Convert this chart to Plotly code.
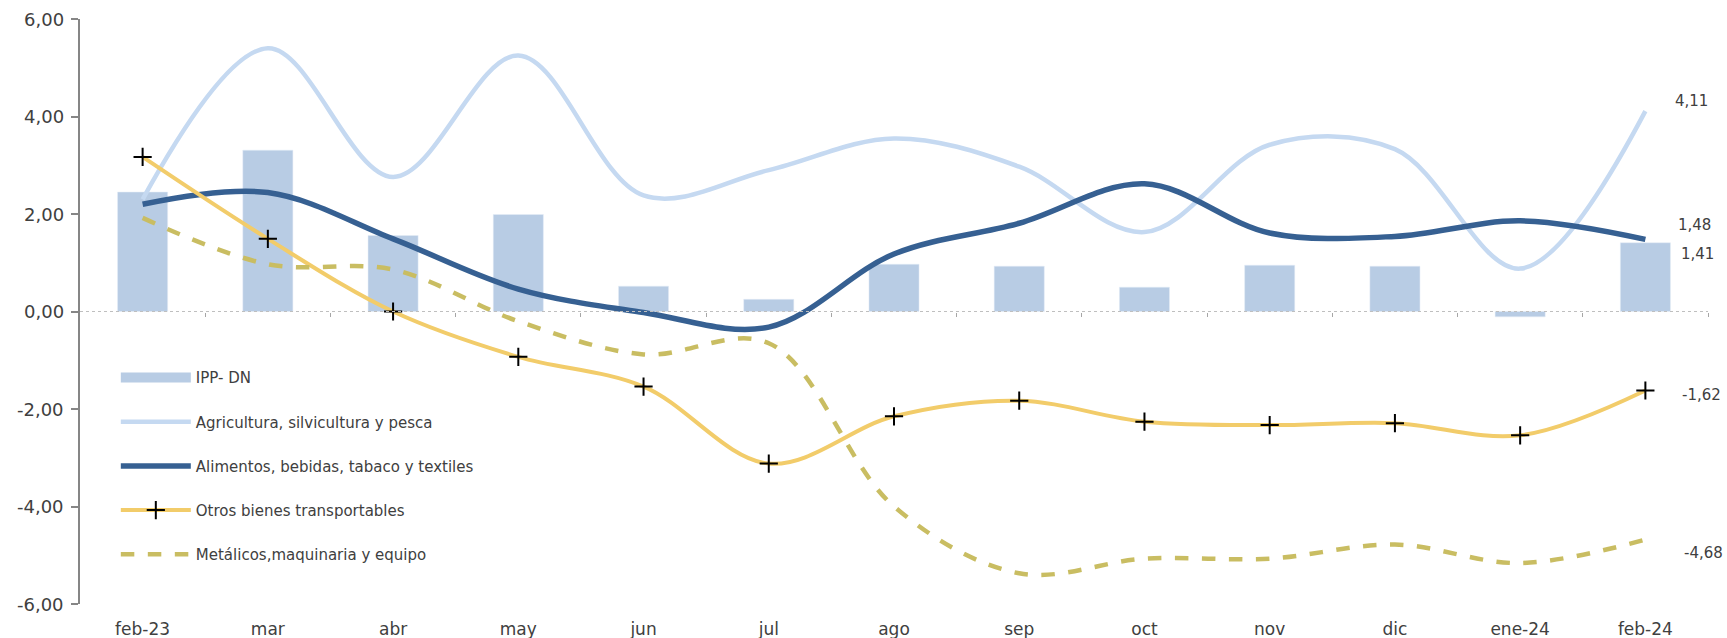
import plotly.graph_objects as go

# categories
months = ["feb-23", "mar", "abr", "may", "jun", "jul", "ago",
          "sep", "oct", "nov", "dic", "ene-24", "feb-24"]

# series values
ipp_dn = [2.45, 3.31, 1.56, 1.99, 0.52, 0.25, 0.97, 0.93, 0.50, 0.95, 0.93, -0.11, 1.41]
agricultura = [2.30, 5.40, 2.76, 5.25, 2.38, 2.90, 3.55, 2.97, 1.63, 3.42, 3.33, 0.88, 4.11]
alimentos = [2.20, 2.44, 1.49, 0.46, -0.02, -0.32, 1.18, 1.81, 2.62, 1.61, 1.54, 1.86, 1.48]
otros = [3.17, 1.49, 0.00, -0.93, -1.54, -3.12, -2.15, -1.83, -2.26, -2.33, -2.29, -2.54, -1.62]
metalicos = [1.92, 0.97, 0.86, -0.20, -0.88, -0.65, -4.00, -5.37, -5.07, -5.07, -4.78, -5.16, -4.68]

y_ticks = [-6, -4, -2, 0, 2, 4, 6]

FONT = "DejaVu Sans"
TEXT = "#404040"

C_BAR = "#B8CCE4"
C_AGRI = "#C5D9F1"
C_ALIM = "#366092"
C_OTROS = "#F2CC6A"
C_METAL = "#C9BD62"


def fmt(v):
    # spanish decimal comma, plain hyphen for negatives
    return f"{v:.2f}".replace(".", ",")


x = list(range(len(months)))

fig = go.Figure()

# bars (legend handled by a proxy line so the swatch is a wide rectangle)
fig.add_trace(go.Bar(x=x, y=ipp_dn, marker_color=C_BAR, width=0.4,
                     showlegend=False, name="IPP- DN"))
fig.add_trace(go.Scatter(x=[None], y=[None], mode="lines", name="IPP- DN",
                         line=dict(color=C_BAR, width=11), legendgroup="a"))

fig.add_trace(go.Scatter(x=x, y=agricultura, mode="lines",
                         name="Agricultura, silvicultura y pesca",
                         line=dict(color=C_AGRI, width=4.5, shape="spline", smoothing=1),
                         legendgroup="b"))
fig.add_trace(go.Scatter(x=x, y=alimentos, mode="lines",
                         name="Alimentos, bebidas, tabaco y textiles",
                         line=dict(color=C_ALIM, width=5.5, shape="spline", smoothing=1),
                         legendgroup="c"))
fig.add_trace(go.Scatter(x=x, y=otros, mode="lines+markers",
                         name="Otros bienes transportables",
                         line=dict(color=C_OTROS, width=4, shape="spline", smoothing=1),
                         marker=dict(symbol="cross-thin", size=13,
                                     line=dict(color="black", width=2)),
                         legendgroup="d"))
fig.add_trace(go.Scatter(x=x, y=metalicos, mode="lines",
                         name="Metálicos,maquinaria y equipo",
                         line=dict(color=C_METAL, width=4.5, shape="spline", smoothing=1, dash="dash"),
                         legendgroup="e"))

# dummy trace so the zero-line tick axis is drawn
fig.add_trace(go.Scatter(x=[None], y=[None], xaxis="x2", showlegend=False, hoverinfo="skip"))

# zero line (dotted)
fig.add_shape(type="line", xref="paper", yref="y", x0=0, x1=1, y0=0, y1=0,
              line=dict(color="#BFBFBF", width=1, dash="dot"))

# y tick labels (drawn as text so they sit at a fixed gap from the axis)
for v in y_ticks:
    fig.add_annotation(xref="paper", x=0, y=v, text=fmt(v), showarrow=False,
                       xanchor="right", xshift=-14,
                       font=dict(family=FONT, size=18, color=TEXT))

# end-of-series labels
end_labels = [
    (agricultura[-1], 10, 46),
    (alimentos[-1], 14, 49),
    (ipp_dn[-1], -11, 52),
    (otros[-1], -5, 56),
    (metalicos[-1], -13, 58),
]
for val, ys, xs in end_labels:
    fig.add_annotation(x=x[-1], y=val, text=fmt(val), showarrow=False,
                       xshift=xs, yshift=ys, xanchor="center",
                       font=dict(family=FONT, size=15, color=TEXT))

fig.update_layout(
    width=1727, height=638,
    margin=dict(l=80, r=19, t=19, b=34, autoexpand=False),
    plot_bgcolor="white", paper_bgcolor="white",
    showlegend=True,
    font=dict(family=FONT, size=16, color=TEXT),
    xaxis=dict(range=[-0.5, 12.5], tickvals=x, ticktext=months, showline=False,
               showgrid=False, zeroline=False, ticks="outside", ticklen=10,
               tickcolor="rgba(0,0,0,0)", tickfont=dict(size=17), automargin=False),
    xaxis2=dict(range=[-0.5, 12.5], overlaying="x", anchor="free", position=0.5,
                tickvals=[i + 0.5 for i in x], ticks="outside", ticklen=4,
                tickcolor="#A6A6A6", tickwidth=1, showticklabels=False, showline=False,
                showgrid=False, zeroline=False, automargin=False),
    yaxis=dict(range=[-6, 6], tickvals=y_ticks, showticklabels=False,
               showgrid=False, zeroline=False, showline=True, linecolor="#868686",
               linewidth=2, ticks="outside", ticklen=7, tickcolor="#868686", tickwidth=2,
               automargin=False),
    legend=dict(x=0.022, y=0.415, xanchor="left", yanchor="top",
                traceorder="grouped", tracegroupgap=21.7, itemwidth=70,
                bgcolor="rgba(0,0,0,0)", font=dict(family=FONT, size=15, color=TEXT)),
)

fig.write_html("out.html", config={"displayModeBar": False},
               post_script="document.body.style.margin='0';")
